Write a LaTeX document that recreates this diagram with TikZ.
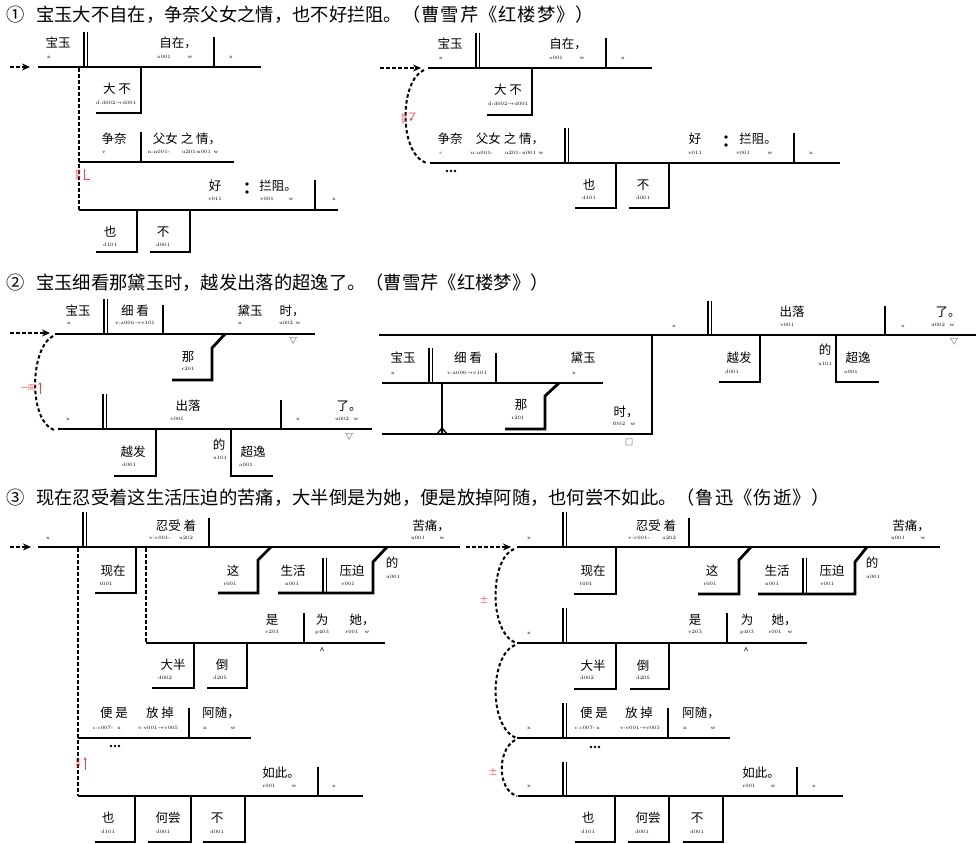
\documentclass[tikz,border=0pt]{standalone}
\usepackage{fontspec}
\newfontfamily\cjk{Noto Sans CJK SC}
\usetikzlibrary{arrows.meta}
\newcounter{nd}
\newdimen\kval
\def\ks#1{\kskA#1\relax}
\def\kskA#1{\ifx\relax#1\else#1\kern\kval\expandafter\kskA\fi}
\newcommand\W[3]{\stepcounter{nd}\node[wd] (n\arabic{nd}) at (#1,#2) {#3};}
\newcommand\T[3]{\stepcounter{nd}\node[tg] (n\arabic{nd}) at (#1,#2) {#3};}
\newcommand\R[3]{\stepcounter{nd}\node[rl] (n\arabic{nd}) at (#1,#2) {#3};}
\newcommand\DV[3]{\draw[tv] (#1,#2) -- (#1,#3); \draw[tv] ({#1+3.6},#2) -- ({#1+3.6},#3);}
\newcommand\TV[3]{\draw[tv] (#1,#2) -- (#1,#3);}
\newcommand\DOTS[2]{\fill ({#1-4},#2) circle (1.3) (#1,#2) circle (1.3) ({#1+4},#2) circle (1.3);}
\newcommand\COLON[2]{\fill (#1,{#2-4}) circle (1.8) (#1,{#2+4}) circle (1.8);}
\tikzset{
  ln/.style={line width=2.8pt, line join=miter},
  tv/.style={line width=1.5pt},
  dsh/.style={line width=2pt, dash pattern=on 3.5pt off 2.5pt},
  arr/.style={dsh, -{Stealth[length=8pt,width=7pt]}},
  wd/.style={font=\cjk\fontsize{12.5}{12.5}\selectfont, inner sep=0pt},
  ttl/.style={font=\cjk\fontsize{18.3}{18.3}\selectfont, inner sep=0pt, anchor=west},
  tg/.style={font=\rmfamily\fontsize{5}{5}\selectfont, inner sep=0pt},
  sym/.style={font=\cjk\fontsize{8}{8}\selectfont, inner sep=0pt},
  rl/.style={font=\cjk\fontsize{5.5}{5.5}\selectfont, inner sep=0pt, text=red!75, align=center},
  rline/.style={red!75, line width=0.7pt}
}
\begin{document}
\begin{tikzpicture}[x=1pt,y=-1pt]
\useasboundingbox (0,0) rectangle (976,843);
\fill[white] (0,0) rectangle (976,843);
% ---------- titles ----------
\node[ttl] (t1n) at (6,15) {①};
\node[ttl] (t1) at (36,15) {宝玉大不自在，争奈父女之情，也不好拦阻。\kval=1pt\ks{（曹雪芹《红楼梦》）}};
\node[ttl] (t2n) at (6,283) {②};
\node[ttl] (t2) at (36,283) {宝玉细看那黛玉时，越发出落的超逸了。\kval=0pt\ks{（曹雪芹《红楼梦》）}};
\node[ttl] (t3n) at (6,498) {③};
\node[ttl] (t3) at (36,498) {现在忍受着这生活压迫的苦痛，大半倒是为她，便是放掉阿随，也何尝不如此。\kval=1pt\ks{（鲁迅《伤逝》）}};

% ================= Diagram 1 left =================
\coordinate (a1s) at (10,67); \coordinate (a1e) at (30,67);
\draw[arr] (a1s) -- (a1e);
\draw[ln] (38,67) -- (261,67);
\DV{84}{32}{67}
\W{58}{43}{宝玉} \T{49}{57}{n}
\W{178}{43}{自在，} \T{164}{57}{a001} \T{190}{57}{w}
\TV{214}{37}{67} \T{231}{57}{x}
\draw[dsh] (79,68) -- (79,210);
\draw[ln] (141,67) -- (141,113) -- (96,113);
\W{117}{89}{大 不} \T{116}{103}{d:d002$\to$d001}
\draw[ln] (79,162) -- (234,162);
\TV{141}{132}{162}
\W{114}{139}{争奈} \T{104}{152}{v}
\W{187}{139}{父女 之 情，} \T{159}{152}{n:n001-} \T{190}{152}{u201-} \T{204}{152}{n001} \T{216}{152}{w}
\R{78}{175}{转\\折}
\draw[rline] (84,169) -- (84,179) -- (90,179);
\draw[ln] (79,210) -- (338,210);
\W{215}{186}{好} \T{215}{199}{v011}
\COLON{247}{188}
\W{278}{186}{拦阻。} \T{267}{199}{v001} \T{291}{199}{w}
\TV{315}{180}{210} \T{334}{199}{x}
\draw[ln] (137,210) -- (137,252) -- (96,252);
\W{110}{232}{也} \T{110}{245}{d101}
\draw[ln] (190,210) -- (190,252) -- (150,252);
\W{163}{232}{不} \T{163}{245}{d001}

% ================= Diagram 1 right =================
\coordinate (b1s) at (380,68); \coordinate (b1e) at (421,68);
\draw[arr] (b1s) -- (b1e);
\draw[ln] (428,68) -- (652,68);
\DV{476}{33}{68}
\W{450}{44}{宝玉} \T{441}{58}{n}
\W{568}{44}{自在，} \T{556}{58}{a001} \T{582}{58}{w}
\TV{606}{38}{68} \T{623}{58}{x}
\draw[ln] (532,68) -- (532,115) -- (487,115);
\W{508}{90}{大 不} \T{508}{104}{d:d002$\to$d001}
\draw[dsh] (424,70) .. controls (400,80) and (398,152) .. (426,163);
\R{404}{119}{转\\折}
\draw[rline,-{Stealth[length=3pt,width=3pt]}] (409,113) -- (415,113) -- (410,121);
\draw[ln] (430,163) -- (840,163);
\W{450}{139}{争奈} \T{441}{153}{c}
\W{510}{139}{父女 之 情，} \T{482}{153}{n:n001-} \T{513}{153}{u201-} \T{529}{153}{n001} \T{541}{153}{w}
\DV{565}{128}{163}
\DOTS{451}{171}
\draw[ln] (616,163) -- (616,208) -- (575,208);
\W{589}{185}{也} \T{589}{198}{d101}
\draw[ln] (669,163) -- (669,208) -- (629,208);
\W{643}{185}{不} \T{643}{198}{d001}
\W{695}{139}{好} \T{695}{153}{v011}
\COLON{726}{141}
\W{758}{139}{拦阻。} \T{743}{153}{v001} \T{770}{153}{w}
\TV{794}{133}{163} \T{811}{153}{x}

% ================= Diagram 2 left =================
\coordinate (a2s) at (10,333); \coordinate (a2e) at (50,333);
\draw[arr] (a2s) -- (a2e);
\draw[ln] (55,334) -- (315,334);
\DV{104}{299}{334}
\W{78}{311}{宝玉} \T{69}{323}{n}
\W{135}{311}{细 看} \T{135}{323}{v:a006$\to$v101}
\TV{163}{305}{334}
\W{250}{311}{黛玉} \T{240}{323}{n}
\W{292}{311}{时，} \T{286}{323}{u002} \T{298}{323}{w}
\node[sym] (s1) at (293,341) {▽};
\draw[ln] (225,334) -- (212,348) -- (212,380) -- (172,380);
\W{188}{357}{那} \T{188}{369}{r201}
\draw[dsh] (53,336) .. controls (30,348) and (28,420) .. (54,430);
\R{28}{388}{\fontsize{7}{7}\selectfont 一同}
\draw[rline,-{Stealth[length=3pt,width=3pt]}] (40,394) -- (40,382);
\draw[ln] (58,429) -- (372,429);
\DV{103}{394}{429} \T{68}{419}{x}
\W{188}{406}{出落} \T{177}{419}{v001}
\TV{281}{400}{429} \T{298}{419}{x}
\W{349}{406}{了。} \T{342}{419}{u002} \T{356}{419}{w}
\node[sym] (s2) at (349,437) {▽};
\draw[ln] (156,429) -- (156,476) -- (114,476);
\W{133}{452}{越发} \T{129}{465}{d001}
\draw[ln] (231,429) -- (231,476) -- (273,476);
\W{219}{445}{的} \T{220}{458}{u101}
\W{253}{452}{超逸} \T{246}{465}{a001}

% ================= Diagram 2 right =================
\draw[ln] (379,335) -- (976,335);
\T{674}{326}{x}
\DV{708}{301}{335}
\W{792}{312}{出落} \T{787}{325}{v001}
\TV{885}{306}{335} \T{903}{326}{x}
\W{948}{312}{了。} \T{938}{325}{u002} \T{952}{325}{w}
\node[sym] (s3) at (954,342) {▽};
\draw[ln] (760,335) -- (760,382) -- (719,382);
\W{739}{358}{越发} \T{732}{372}{d001}
\draw[ln] (836,335) -- (836,382) -- (879,382);
\W{825}{350}{的} \T{825}{364}{u101}
\W{858}{358}{超逸} \T{851}{372}{a001}
\draw[ln] (382,434) -- (652,434) -- (652,335);
\draw[ln] (382,383) -- (603,383);
\W{403}{358}{宝玉} \T{393}{373}{n}
\DV{429}{348}{383}
\W{468}{358}{细 看} \T{467}{373}{v:a006$\to$v101}
\TV{496}{353}{383}
\W{583}{358}{黛玉} \T{574}{373}{n}
\draw[ln] (442,383) -- (442,433);
\draw[tv] (437,434) -- (442,428) -- (447,434);
\draw[ln] (559,383) -- (545,396) -- (545,429) -- (505,429);
\W{521}{405}{那} \T{518}{418}{r201}
\W{626}{412}{时，} \T{619}{424}{f002} \T{633}{424}{w}
\node[sym] (s4) at (629,442) {□};

% ================= Diagram 3 left =================
\coordinate (a3s) at (10,547); \coordinate (a3e) at (31,547);
\draw[arr] (a3s) -- (a3e);
\draw[ln] (38,547) -- (460,547);
\T{48}{538}{x}
\DV{83}{512}{547}
\W{176}{526}{忍受 着} \T{160}{538}{v:v001-} \T{186}{538}{u202}
\TV{209}{518}{547}
\W{431}{526}{苦痛，} \T{418}{538}{n001} \T{442}{538}{w}
\draw[dsh] (78,548) -- (78,796);
\draw[ln] (136,547) -- (136,593) -- (95,593);
\W{113}{571}{现在} \T{106}{584}{t001}
\draw[dsh] (146,548) -- (146,643);
\draw[ln] (271,547) -- (258,560) -- (258,593) -- (218,593);
\W{233}{571}{这} \T{230}{584}{r001}
\draw[ln] (278,593) -- (373,593) -- (373,562) -- (387,547);
\DV{323}{558}{593}
\W{293}{571}{生活} \T{292}{584}{n001}
\W{352}{571}{压迫} \T{348}{584}{v001}
\W{392}{563}{的} \T{393}{577}{u001}
\draw[ln] (146,643) -- (385,643);
\W{272}{620}{是} \T{272}{632}{v203}
\TV{304}{613}{643}
\W{322}{620}{为} \T{322}{632}{p403}
\W{362}{620}{她，} \T{352}{632}{r001} \T{367}{632}{w}
\node[sym] (s5) at (322,651) {\fontsize{9}{9}\selectfont \^{}};
\draw[ln] (194,643) -- (194,688) -- (152,688);
\W{173}{665}{大半} \T{165}{678}{d002}
\draw[ln] (247,643) -- (247,688) -- (207,688);
\W{222}{665}{倒} \T{220}{678}{d205}
\draw[ln] (78,738) -- (251,738);
\TV{189}{708}{738}
\W{114}{713}{便 是} \T{103}{728}{c:c007-} \T{119}{728}{u}
\W{160}{713}{放 掉} \T{158}{728}{v:v001$\to$v005}
\W{221}{713}{阿随，} \T{205}{728}{n} \T{233}{728}{w}
\DOTS{115}{746}
\R{78}{763}{让\\步}
\draw[rline,-{Stealth[length=3pt,width=3pt]}] (85,770) -- (85,757);
\draw[ln] (78,796) -- (363,796);
\W{281}{773}{如此。} \T{269}{786}{r001} \T{294}{786}{w}
\TV{318}{767}{796} \T{334}{786}{x}
\draw[ln] (135,796) -- (135,842) -- (95,842);
\W{108}{818}{也} \T{108}{832}{d101}
\draw[ln] (191,796) -- (191,842) -- (148,842);
\W{168}{818}{何尝} \T{163}{832}{d001}
\draw[ln] (245,796) -- (245,842) -- (203,842);
\W{217}{818}{不} \T{217}{832}{d001}

% ================= Diagram 3 right =================
\coordinate (b3s) at (466,547); \coordinate (b3e) at (511,547);
\draw[arr] (b3s) -- (b3e);
\draw[ln] (517,547) -- (940,547);
\T{529}{538}{x}
\DV{563}{512}{547}
\W{656}{526}{忍受 着} \T{639}{538}{v:v001-} \T{669}{538}{u202}
\TV{689}{518}{547}
\W{911}{526}{苦痛，} \T{898}{538}{n001} \T{923}{538}{w}
\draw[ln] (616,547) -- (616,594) -- (574,594);
\W{593}{571}{现在} \T{586}{584}{t001}
\draw[ln] (751,547) -- (739,560) -- (739,594) -- (698,594);
\W{712}{571}{这} \T{710}{584}{r001}
\draw[ln] (758,594) -- (855,594) -- (855,562) -- (867,547);
\DV{803}{558}{594}
\W{777}{571}{生活} \T{772}{584}{n001}
\W{832}{571}{压迫} \T{827}{584}{v001}
\W{872}{563}{的} \T{873}{577}{u001}
\draw[dsh] (514,549) .. controls (490,558) and (488,632) .. (516,643);
\R{484}{600}{\fontsize{9}{9}\selectfont ±}
\draw[ln] (517,643) -- (807,643);
\T{529}{633}{x}
\DV{563}{608}{643}
\W{695}{620}{是} \T{695}{632}{v203}
\TV{727}{613}{643}
\W{747}{620}{为} \T{747}{632}{p403}
\W{784}{620}{她，} \T{775}{632}{r001} \T{790}{632}{w}
\node[sym] (s6) at (746,651) {\fontsize{9}{9}\selectfont \^{}};
\draw[ln] (616,643) -- (616,689) -- (574,689);
\W{593}{666}{大半} \T{587}{678}{d002}
\draw[ln] (669,643) -- (669,689) -- (630,689);
\W{643}{666}{倒} \T{643}{678}{d205}
\draw[dsh] (515,645) .. controls (490,655) and (488,726) .. (516,738);
\draw[ln] (517,738) -- (730,738);
\T{529}{728}{x}
\DV{563}{703}{738}
\W{594}{713}{便 是} \T{585}{728}{c:c007-} \T{598}{728}{u}
\W{639}{713}{放 掉} \T{640}{728}{v:v001$\to$v005}
\TV{668}{708}{738}
\W{701}{713}{阿随，} \T{685}{728}{n} \T{713}{728}{w}
\DOTS{595}{747}
\draw[dsh] (515,740) .. controls (497,750) and (497,790) .. (517,796);
\R{493}{772}{\fontsize{9}{9}\selectfont ±}
\draw[ln] (518,796) -- (843,796);
\T{529}{786}{x}
\DV{563}{762}{796}
\W{761}{773}{如此。} \T{749}{786}{r001} \T{773}{786}{w}
\TV{797}{767}{796} \T{814}{786}{x}
\draw[ln] (615,796) -- (615,842) -- (575,842);
\W{588}{818}{也} \T{588}{832}{d101}
\draw[ln] (669,796) -- (669,842) -- (628,842);
\W{648}{818}{何尝} \T{642}{832}{d001}
\draw[ln] (723,796) -- (723,842) -- (683,842);
\W{697}{818}{不} \T{697}{832}{d001}
\end{tikzpicture}
\end{document}
